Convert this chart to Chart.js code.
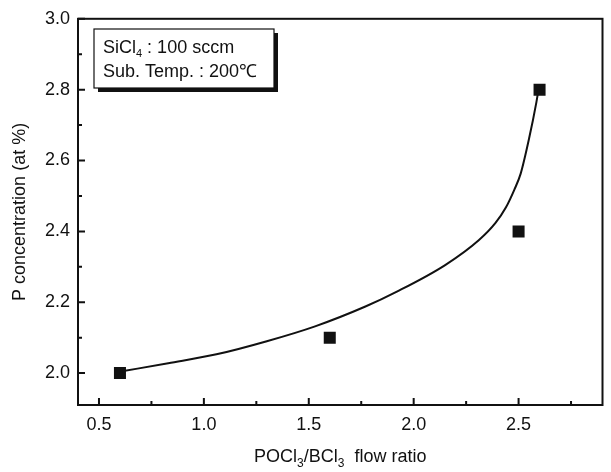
<!DOCTYPE html>
<html>
<head>
<meta charset="utf-8">
<script src="https://cdn.jsdelivr.net/npm/chart.js@4.4.1/dist/chart.umd.min.js"></script>
<style>
  html, body { margin: 0; padding: 0; background: #fff; overflow: hidden; }
  canvas { display: block; }
</style>
</head>
<body>
<canvas id="plot" width="611" height="472" style="width:611px;height:472px"></canvas>
<script>
// measured points
const ratioX = [0.6, 1.6, 2.5, 2.6];
const concY  = [2.0, 2.1, 2.4, 2.8];

// fitted curve
const fitX = [0.61, 0.83, 1.06, 1.30, 1.53, 1.77, 1.92, 2.15, 2.31, 2.39, 2.44, 2.48, 2.51, 2.55, 2.585, 2.595];
const fitY = [2.005, 2.028, 2.053, 2.09, 2.132, 2.188, 2.23, 2.305, 2.375, 2.424, 2.468, 2.518, 2.563, 2.662, 2.765, 2.80];

// axis ticks
const xMajor = [0.5, 1.0, 1.5, 2.0, 2.5];
const xMinor = [0.75, 1.25, 1.75, 2.25, 2.75];
const yMajor = [2.0, 2.2, 2.4, 2.6, 2.8, 3.0];
const yMinor = [2.1, 2.3, 2.5, 2.7, 2.9];

const FONT = '"Liberation Sans", Arial, sans-serif';
const INK = '#111';

// inward ticks, frame, titles and the note box
const decorPlugin = {
  id: 'decor',
  afterDraw(chart) {
    const { ctx, chartArea: a } = chart;
    const xs = chart.scales.x, ys = chart.scales.y;
    ctx.save();
    ctx.strokeStyle = INK;
    ctx.lineWidth = 2;
    ctx.strokeRect(a.left, a.top, a.right - a.left, a.bottom - a.top);

    ctx.beginPath();
    xMajor.forEach(v => { const p = xs.getPixelForValue(v); ctx.moveTo(p, a.bottom); ctx.lineTo(p, a.bottom - 7); });
    xMinor.forEach(v => { const p = xs.getPixelForValue(v); ctx.moveTo(p, a.bottom); ctx.lineTo(p, a.bottom - 4); });
    yMajor.forEach(v => { const p = ys.getPixelForValue(v); ctx.moveTo(a.left, p); ctx.lineTo(a.left + 7, p); });
    yMinor.forEach(v => { const p = ys.getPixelForValue(v); ctx.moveTo(a.left, p); ctx.lineTo(a.left + 4, p); });
    ctx.stroke();

    ctx.fillStyle = INK;
    ctx.textBaseline = 'alphabetic';

    // x title with subscripts
    const big = '18px ' + FONT, sub = '12px ' + FONT;
    const parts = [['POCl', big, 0], ['3', sub, 5], ['/BCl', big, 0], ['3', sub, 5], ['  flow ratio', big, 0]];
    let total = 0;
    parts.forEach(p => { ctx.font = p[1]; total += ctx.measureText(p[0]).width; });
    let tx = (a.left + a.right) / 2 - total / 2;
    const ty = 462;
    parts.forEach(p => { ctx.font = p[1]; ctx.fillText(p[0], tx, ty + p[2]); tx += ctx.measureText(p[0]).width; });

    // y title
    ctx.save();
    ctx.translate(25, (a.top + a.bottom) / 2);
    ctx.rotate(-Math.PI / 2);
    ctx.font = big;
    ctx.textAlign = 'center';
    ctx.fillText('P concentration (at %)', 0, 0);
    ctx.restore();

    // note box with shadow
    const bx = 94, by = 29, bw = 180, bh = 59;
    ctx.fillRect(bx + 4, by + 4, bw, bh);
    ctx.fillStyle = '#fff';
    ctx.fillRect(bx, by, bw, bh);
    ctx.lineWidth = 1.2;
    ctx.strokeRect(bx, by, bw, bh);
    ctx.fillStyle = INK;
    const nf = '18px ' + FONT, ns = '11px ' + FONT;
    let nx = 103;
    [['SiCl', nf, 0], ['4', ns, 4], [' : 100 sccm', nf, 0]].forEach(p => {
      ctx.font = p[1]; ctx.fillText(p[0], nx, 53 + p[2]); nx += ctx.measureText(p[0]).width;
    });
    ctx.font = nf;
    ctx.fillText('Sub. Temp. : 200\u2103', 103, 77);
    ctx.restore();
  }
};

new Chart(document.getElementById('plot'), {
  type: 'scatter',
  data: {
    datasets: [
      {
        label: 'fit',
        type: 'line',
        data: fitX.map((x, i) => ({ x: x, y: fitY[i] })),
        borderColor: INK,
        borderWidth: 2,
        pointRadius: 0,
        fill: false,
        cubicInterpolationMode: 'monotone',
      },
      {
        label: 'P',
        data: ratioX.map((x, i) => ({ x: x, y: concY[i] })),
        pointStyle: 'rect',
        pointRadius: 8.5,
        backgroundColor: INK,
        borderWidth: 0,
      }
    ]
  },
  options: {
    responsive: false,
    animation: false,
    devicePixelRatio: 1,
    layout: { padding: { top: 15, right: 2, left: 0, bottom: 0 } },
    plugins: { legend: { display: false }, tooltip: { enabled: false } },
    scales: {
      x: {
        type: 'linear',
        min: 0.4,
        max: 2.9,
        afterBuildTicks: s => { s.ticks = xMajor.map(v => ({ value: v })); },
        afterFit: s => { s.height = 67; },
        grid: { display: false, drawTicks: false },
        border: { display: false },
        ticks: {
          padding: 9,
          color: INK,
          font: { family: FONT, size: 18 },
          maxRotation: 0,
          callback: v => v.toFixed(1),
        },
      },
      y: {
        min: 1.91,
        max: 3.0,
        afterBuildTicks: s => { s.ticks = yMajor.map(v => ({ value: v })); },
        afterFit: s => { s.width = 78; },
        grid: { display: false, drawTicks: false },
        border: { display: false },
        ticks: {
          padding: 8,
          color: INK,
          font: { family: FONT, size: 18 },
          callback: v => v.toFixed(1),
        },
      }
    }
  },
  plugins: [decorPlugin]
});
</script>
</body>
</html>
